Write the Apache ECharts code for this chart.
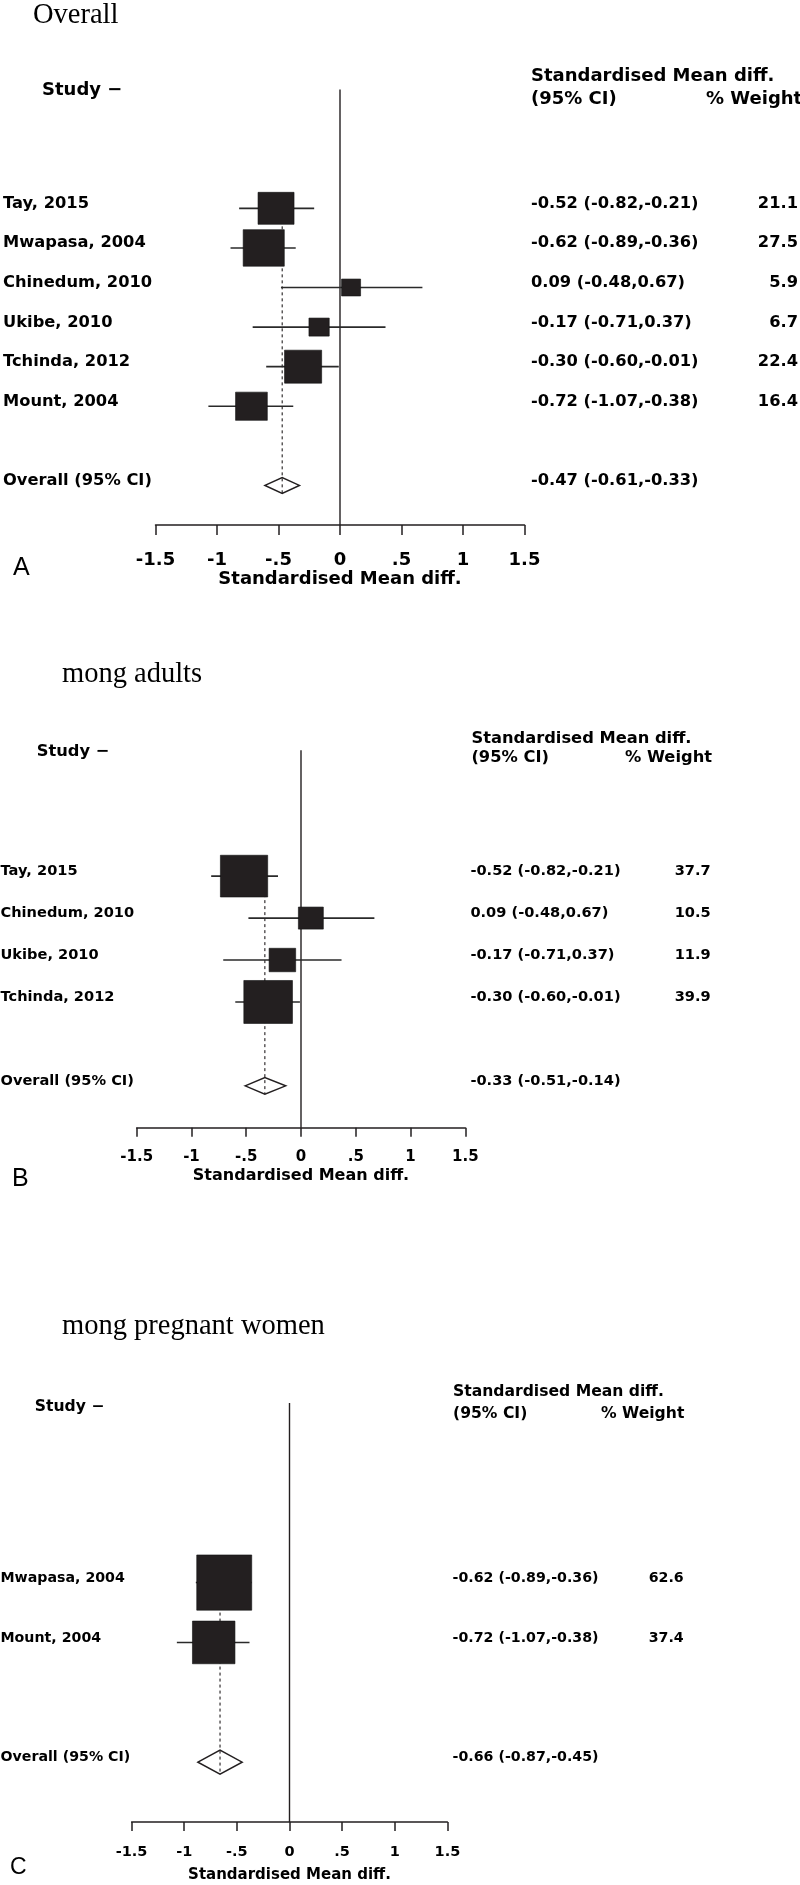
<!DOCTYPE html>
<html><head><meta charset="utf-8">
<script src="https://cdn.jsdelivr.net/npm/echarts@6/dist/echarts.min.js"></script>
<style>html,body{margin:0;padding:0;background:#fff}#c{width:800px;height:1885px}</style>
</head><body><div id="c"></div>
<script>
// ---------- DATA ----------
// Panel A: Overall
const studiesA = ['Tay, 2015','Mwapasa, 2004','Chinedum, 2010','Ukibe, 2010','Tchinda, 2012','Mount, 2004'];
const smdA     = [-0.52, -0.62, 0.09, -0.17, -0.30, -0.72];
const lowerA   = [-0.82, -0.89, -0.48, -0.71, -0.60, -1.07];
const upperA   = [-0.21, -0.36, 0.67, 0.37, -0.01, -0.38];
const weightA  = [21.1, 27.5, 5.9, 6.7, 22.4, 16.4];
const overallA = [-0.47, -0.61, -0.33];
// Panel B: among adults
const studiesB = ['Tay, 2015','Chinedum, 2010','Ukibe, 2010','Tchinda, 2012'];
const smdB     = [-0.52, 0.09, -0.17, -0.30];
const lowerB   = [-0.82, -0.48, -0.71, -0.60];
const upperB   = [-0.21, 0.67, 0.37, -0.01];
const weightB  = [37.7, 10.5, 11.9, 39.9];
const overallB = [-0.33, -0.51, -0.14];
// Panel C: among pregnant women
const studiesC = ['Mwapasa, 2004','Mount, 2004'];
const smdC     = [-0.62, -0.72];
const lowerC   = [-0.89, -1.07];
const upperC   = [-0.36, -0.38];
const weightC  = [62.6, 37.4];
const overallC = [-0.66, -0.87, -0.45];

const xTicks      = [-1.5, -1, -0.5, 0, 0.5, 1, 1.5];
const tickLabels  = ['-1.5','-1','-.5','0','.5','1','1.5'];
const panelTitles = ['Overall','mong adults','mong pregnant women'];
const panelLetters = ['A','B','C'];
const overallLabel = 'Overall (95% CI)';
const xAxisName = 'Standardised Mean diff.';
const headStudy = 'Study \u2212';
const headCI1 = 'Standardised Mean diff.';
const headCI2 = '(95% CI)';
const headW = '% Weight';

// ---------- LAYOUT ----------
const SANS = '"DejaVu Sans", sans-serif';
const SERIF = '"Liberation Serif", "Times New Roman", serif';
const panels = [
  {studies:studiesA, smd:smdA, lower:lowerA, upper:upperA, weight:weightA, overall:overallA,
   left:155.5, width:369, top:89.6, height:435.4,
   fRow:16.3, fHead:18, fTick:18, fName:18, kw:7.84, kh:6.97,
   labelX:3, ciX:531, wRight:798, headX:531, headY1:76.7, headY2:99.3, wHeadX:706,
   studyX:42, studyY:90.7, titleX:33, titleY:15.5, letterX:13, letterY:568, letterF:25,
   tickLen:10, labMargin:26, nameGap:43, dy:-4.7},
  {studies:studiesB, smd:smdB, lower:lowerB, upper:upperB, weight:weightB, overall:overallB,
   left:136.7, width:328.6, top:750.3, height:377.5,
   fRow:14.6, fHead:16.3, fTick:15, fName:16, kw:7.7, kh:6.8,
   labelX:0.5, ciX:470.4, wRight:710.7, headX:471.4, headY1:738.3, headY2:757.7, wHeadX:625,
   studyX:36.7, studyY:751.7, titleX:62, titleY:674.7, letterX:12, letterY:1179, letterF:25,
   tickLen:9, labMargin:22, nameGap:40, dy:-4.5},
  {studies:studiesC, smd:smdC, lower:lowerC, upper:upperC, weight:weightC, overall:overallC,
   left:131.6, width:315.8, top:1403, height:419,
   fRow:14.2, fHead:15.6, fTick:14.5, fName:15, kw:6.95, kh:6.98,
   labelX:0.5, ciX:452.6, wRight:683.7, headX:453, headY1:1391.7, headY2:1414, wHeadX:601,
   studyX:34.7, studyY:1406.7, titleX:62, titleY:1327, letterX:10, letterY:1868, letterF:23,
   tickLen:9, labMargin:23, nameGap:46, dy:-4.5}
];

const INK = '#231f20';
const grids = [], xAxes = [], yAxes = [], series = [], graphics = [];

function fmtCI(e, l, h){ return e.toFixed(2) + ' (' + l.toFixed(2) + ',' + h.toFixed(2) + ')'; }

panels.forEach((p, k) => {
  const n = p.studies.length;
  const overallRow = n + 1;
  const axisRow = n + 2;
  grids.push({left:p.left, top:p.top, width:p.width, height:p.height, containLabel:false});
  xAxes.push({
    gridIndex:k, type:'value', min:-1.5, max:1.5, interval:0.5, position:'bottom',
    axisLine:{show:true, onZero:false, lineStyle:{color:INK, width:1.5}},
    axisTick:{show:true, inside:false, length:p.tickLen, lineStyle:{color:INK, width:1.5}},
    splitLine:{show:false},
    axisLabel:{show:true, margin:p.labMargin, color:'#000', fontFamily:SANS, fontWeight:'bold', fontSize:p.fTick,
      hideOverlap:false, showMinLabel:true, showMaxLabel:true,
      formatter:v => { const i = xTicks.findIndex(t => Math.abs(t - v) < 1e-9); return i >= 0 ? tickLabels[i] : ''; }},
    name:xAxisName, nameLocation:'middle', nameGap:p.nameGap,
    nameTextStyle:{color:'#000', fontFamily:SANS, fontWeight:'bold', fontSize:p.fName}
  });
  yAxes.push({gridIndex:k, type:'value', min:-3, max:axisRow, inverse:true, show:false, splitLine:{show:false}});

  // zero reference line
  series.push({
    type:'custom', xAxisIndex:k, yAxisIndex:k, clip:false, silent:true, z:1,
    data:[[0, -3, axisRow]],
    renderItem:(params, api) => {
      const a = api.coord([api.value(0), api.value(1)]);
      const b = api.coord([api.value(0), api.value(2)]);
      return {type:'line', shape:{x1:a[0], y1:a[1], x2:b[0], y2:b[1]}, style:{stroke:INK, lineWidth:1.4}};
    }
  });

  // overall: diamond + dashed line + texts
  series.push({
    type:'custom', xAxisIndex:k, yAxisIndex:k, clip:false, silent:true, z:2,
    data:[[p.overall[0], p.overall[1], p.overall[2], overallRow]],
    renderItem:(params, api) => {
      const e = api.value(0), l = api.value(1), h = api.value(2), r = api.value(3);
      const L = api.coord([l, r]), R = api.coord([h, r]);
      const T = api.coord([e, r - 0.2]), B = api.coord([e, r + 0.2]);
      const top = api.coord([e, 0]);
      const yT = api.coord([0, r])[1] + p.dy;
      return {type:'group', children:[
        {type:'polygon', shape:{points:[L, T, R, B]}, style:{fill:'#fff', stroke:INK, lineWidth:1.5}},
        {type:'line', shape:{x1:top[0], y1:top[1], x2:B[0], y2:B[1]}, style:{stroke:INK, lineWidth:1.1, lineDash:[3,3]}},
        {type:'text', style:{text:overallLabel, x:p.labelX, y:yT, fill:'#000',
          font:'bold ' + p.fRow + 'px ' + SANS, textAlign:'left', textVerticalAlign:'middle'}},
        {type:'text', style:{text:fmtCI(e, l, h), x:p.ciX, y:yT, fill:'#000',
          font:'bold ' + p.fRow + 'px ' + SANS, textAlign:'left', textVerticalAlign:'middle'}}
      ]};
    }
  });

  // studies: CI whiskers + weighted squares + texts
  series.push({
    type:'custom', xAxisIndex:k, yAxisIndex:k, clip:false, silent:true, z:3,
    data:p.studies.map((s, i) => [p.smd[i], p.lower[i], p.upper[i], i, p.weight[i]]),
    renderItem:(params, api) => {
      const i = params.dataIndex;
      const e = api.value(0), l = api.value(1), h = api.value(2), r = api.value(3), w = api.value(4);
      const c = api.coord([e, r]), a = api.coord([l, r]), b = api.coord([h, r]);
      const sw = p.kw * Math.sqrt(w), sh = p.kh * Math.sqrt(w);
      const yT = c[1] + p.dy;
      const font = 'bold ' + p.fRow + 'px ' + SANS;
      return {type:'group', children:[
        {type:'line', shape:{x1:a[0], y1:a[1], x2:b[0], y2:b[1]}, style:{stroke:'#2a2a2a', lineWidth:1.6}},
        {type:'rect', shape:{x:c[0] - sw/2, y:c[1] - sh/2, width:sw, height:sh}, style:{fill:INK, stroke:'#111', lineWidth:0.6}},
        {type:'text', style:{text:p.studies[i], x:p.labelX, y:yT, fill:'#000', font, textAlign:'left', textVerticalAlign:'middle'}},
        {type:'text', style:{text:fmtCI(e, l, h), x:p.ciX, y:yT, fill:'#000', font, textAlign:'left', textVerticalAlign:'middle'}},
        {type:'text', style:{text:w.toFixed(1), x:p.wRight, y:yT, fill:'#000', font, textAlign:'right', textVerticalAlign:'middle'}}
      ]};
    }
  });

  // static texts
  const hf = 'bold ' + p.fHead + 'px ' + SANS;
  graphics.push(
    {type:'text', silent:true, style:{text:panelTitles[k], x:p.titleX, y:p.titleY, fill:'#000', font:'28.5px ' + SERIF, textAlign:'left', textVerticalAlign:'middle'}},
    {type:'text', silent:true, style:{text:headStudy, x:p.studyX, y:p.studyY, fill:'#000', font:hf, textAlign:'left', textVerticalAlign:'middle'}},
    {type:'text', silent:true, style:{text:headCI1, x:p.headX, y:p.headY1, fill:'#000', font:hf, textAlign:'left', textVerticalAlign:'middle'}},
    {type:'text', silent:true, style:{text:headCI2, x:p.headX, y:p.headY2, fill:'#000', font:hf, textAlign:'left', textVerticalAlign:'middle'}},
    {type:'text', silent:true, style:{text:headW, x:p.wHeadX, y:p.headY2, fill:'#000', font:hf, textAlign:'left', textVerticalAlign:'middle'}},
    {type:'text', silent:true, style:{text:panelLetters[k], x:p.letterX, y:p.letterY, fill:'#000', font:p.letterF + 'px "Liberation Sans", Arial, sans-serif', textAlign:'left', textVerticalAlign:'middle'}}
  );
});

const chart = echarts.init(document.getElementById('c'), null, {renderer:'canvas'});
chart.setOption({
  animation:false,
  backgroundColor:'#fff',
  grid:grids, xAxis:xAxes, yAxis:yAxes, series:series, graphic:graphics
});
</script></body></html>
